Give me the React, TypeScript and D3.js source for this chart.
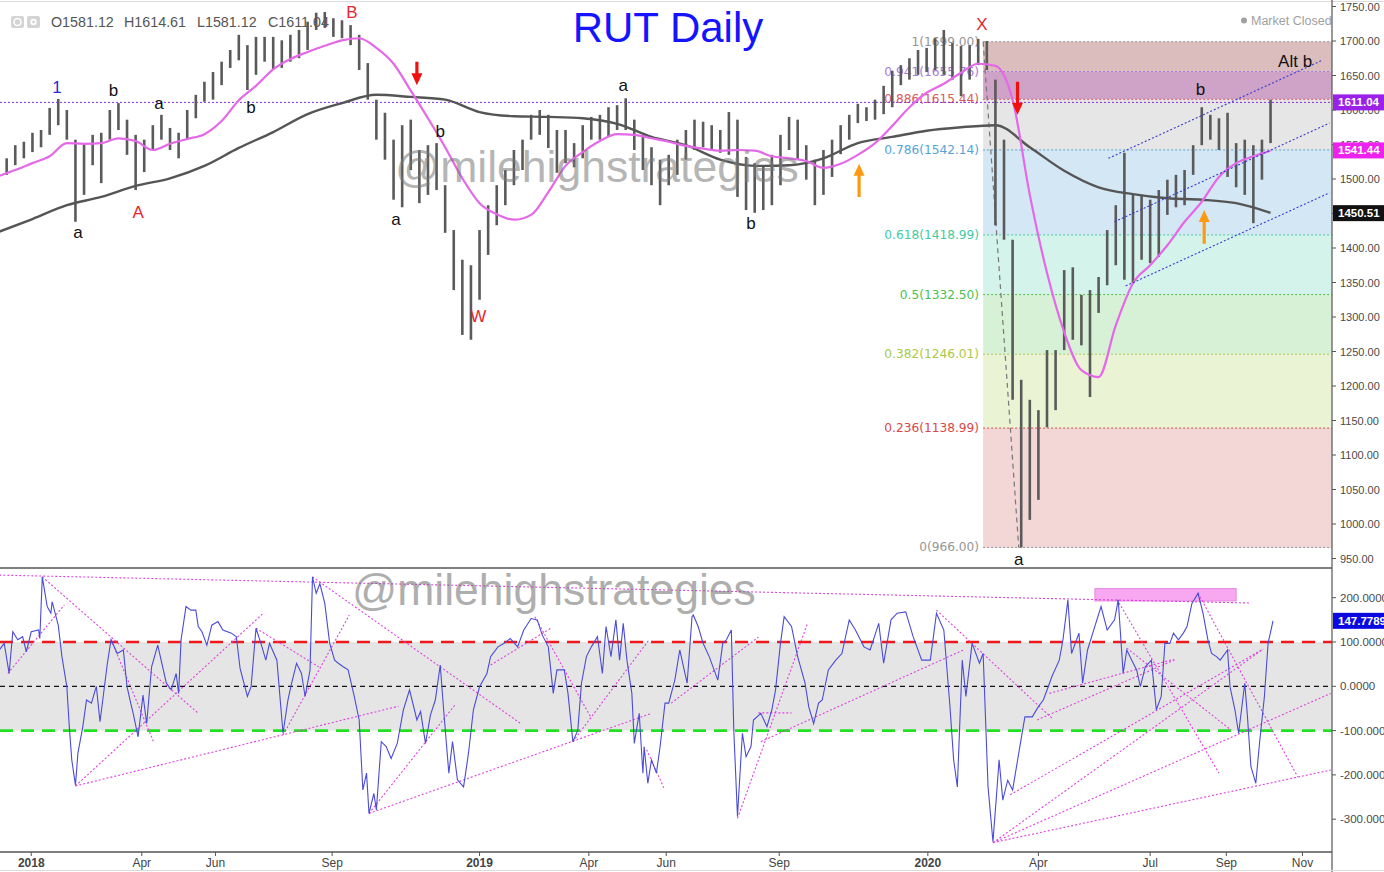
import React from "react";
import * as d3 from "d3";

const parse = d3.timeParse("%Y-%m-%d");
const D = (s: string): Date => parse(s) as Date;

// ---------------- DATA ----------------
// weekly price ranges (one bar per week, dated on the Wednesday)
const barStartDate = "2017-12-06";
const weeklyHigh = [
  1528, 1530, 1549, 1554, 1567, 1571, 1603, 1616, 1600, 1557,
  1552, 1564, 1567, 1600, 1610, 1586, 1564, 1557, 1578, 1593,
  1574, 1567, 1600, 1622, 1641, 1655, 1670, 1687, 1709, 1694,
  1706, 1706, 1706, 1701, 1709, 1716, 1728, 1741, 1742, 1733,
  1730, 1723, 1709, 1668, 1615, 1596, 1557, 1578, 1586, 1542,
  1549, 1552, 1491, 1426, 1383, 1375, 1426, 1462, 1491, 1513,
  1542, 1557, 1593, 1600, 1593, 1571, 1571, 1552, 1578, 1590,
  1593, 1604, 1607, 1617, 1586, 1564, 1546, 1528, 1535, 1557,
  1571, 1586, 1583, 1578, 1571, 1597, 1586, 1532, 1523, 1520,
  1535, 1564, 1590, 1586, 1549, 1528, 1542, 1557, 1578, 1593,
  1609, 1604, 1615, 1635, 1657, 1665, 1675, 1687, 1690, 1704,
  1716, 1697, 1693, 1694, 1703, 1700, 1644, 1557, 1412, 1209,
  1180, 1165, 1252, 1252, 1368, 1372, 1332, 1339, 1358, 1426,
  1462, 1538, 1477, 1477, 1470, 1484, 1499, 1506, 1513, 1549,
  1604, 1593, 1588, 1596, 1552, 1557, 1549, 1557, 1615,
];
const weeklyLow = [
  1506, 1506, 1520, 1530, 1539, 1546, 1564, 1578, 1557, 1438,
  1477, 1520, 1494, 1557, 1571, 1535, 1484, 1510, 1542, 1557,
  1542, 1530, 1557, 1588, 1612, 1615, 1636, 1661, 1672, 1629,
  1651, 1670, 1658, 1661, 1670, 1675, 1687, 1716, 1719, 1706,
  1704, 1694, 1658, 1615, 1557, 1528, 1470, 1459, 1513, 1465,
  1477, 1484, 1422, 1339, 1274, 1267, 1325, 1390, 1433, 1462,
  1491, 1513, 1557, 1564, 1545, 1509, 1523, 1517, 1530, 1557,
  1557, 1561, 1571, 1571, 1542, 1513, 1491, 1462, 1491, 1506,
  1528, 1542, 1546, 1542, 1538, 1535, 1474, 1455, 1451, 1455,
  1462, 1491, 1542, 1528, 1499, 1462, 1477, 1503, 1536, 1557,
  1581, 1584, 1586, 1594, 1604, 1636, 1644, 1651, 1655, 1658,
  1651, 1644, 1620, 1644, 1665, 1658, 1433, 1412, 1180, 966,
  1006, 1035, 1140, 1165, 1252, 1267, 1259, 1184, 1306, 1346,
  1375, 1354, 1349, 1383, 1378, 1387, 1448, 1459, 1462, 1506,
  1549, 1557, 1542, 1503, 1488, 1477, 1436, 1499, 1552,
];

// 50-day MA sampled every 2 weeks, 200-day MA every 4 weeks
const maStartDate = "2017-12-06";
const ma50 = [
  1504, 1513, 1523, 1533, 1552, 1551, 1552, 1559, 1555, 1542,
  1551, 1558, 1565, 1584, 1614, 1635, 1659, 1674, 1684, 1693,
  1701, 1704, 1690, 1667, 1628, 1588, 1546, 1501, 1465, 1449,
  1441, 1448, 1481, 1519, 1539, 1555, 1565, 1564, 1559, 1554,
  1548, 1544, 1541, 1542, 1541, 1533, 1530, 1526, 1516, 1522,
  1535, 1552, 1577, 1604, 1625, 1638, 1654, 1667, 1664, 1615,
  1477, 1364, 1278, 1223, 1213, 1288, 1349, 1375, 1404, 1438,
  1467, 1503, 1523, 1533, 1541,
];
const ma200 = [
  1423, 1442, 1462, 1474, 1490, 1501, 1519, 1545, 1568, 1594,
  1610, 1622, 1619, 1615, 1597, 1591, 1590, 1588, 1580, 1561,
  1549, 1528, 1519, 1520, 1530, 1552, 1561, 1570, 1575, 1578,
  1546, 1512, 1488, 1478, 1472, 1470, 1465, 1451,
];

const headerFields = ["O1581.12", "H1614.61", "L1581.12", "C1611.04"];
const lastClose = 1611.04;
const lastMa50 = 1541.44;
const lastMa200 = 1450.51;
const lastCci = 147.7789;

// Fibonacci retracement from X to a
const fibStartDate = "2020-02-16";
const fibEndDate = "2020-03-16";
const fibRatios = ["1", "0.941", "0.886", "0.786", "0.618", "0.5", "0.382", "0.236", "0"];
const fibPrices = [1699.0, 1655.76, 1615.44, 1542.14, 1418.99, 1332.5, 1246.01, 1138.99, 966.0];
const fibLineColors = ["#959595", "#a57ad8", "#d65a5a", "#55a3d8", "#45c9a3", "#4cbf4c", "#a9c84a", "#d84848", "#959595"];
const fibFillColors = ["#dbbdbd", "#cfa2c7", "#e6e6e6", "#d4e7f4", "#d4f3ea", "#d6f1d6", "#ebf3d5", "#f3d6d6"];

// Elliott-wave annotations: [date, price, text, colour]
const waveLabels: [string, number, string, string][] = [
  ["2018-01-23", 1633, "1", "#2a2ad6"],
  ["2018-03-10", 1628, "b", "#111"],
  ["2018-04-16", 1609, "a", "#111"],
  ["2018-06-30", 1603, "b", "#111"],
  ["2018-02-09", 1423, "a", "#111"],
  ["2018-03-30", 1452, "A", "#e82530"],
  ["2018-09-20", 1741, "B", "#e82530"],
  ["2018-10-26", 1441, "a", "#111"],
  ["2018-12-01", 1569, "b", "#111"],
  ["2019-01-01", 1301, "W", "#e82530"],
  ["2019-04-29", 1636, "a", "#111"],
  ["2019-08-11", 1436, "b", "#111"],
  ["2020-02-15", 1724, "X", "#e82530"],
  ["2020-08-11", 1630, "b", "#111"],
  ["2020-10-27", 1671, "Alt b", "#111"],
  ["2020-03-16", 948, "a", "#111"],
];
// arrows: [date, tip price, tail price, colour]
const arrows: [string, number, number, string][] = [
  ["2018-11-12", 1636, 1670, "#f01010"],
  ["2020-03-15", 1593, 1641, "#f01010"],
  ["2019-11-07", 1522, 1474, "#ff9a10"],
  ["2020-08-14", 1455, 1406, "#ff9a10"],
];
// parallel channel: [date1, price1, date2, price2]
const channelLines: [string, number, string, number][] = [
  ["2020-05-28", 1530, "2020-11-18", 1672],
  ["2020-06-02", 1438, "2020-11-24", 1581],
  ["2020-06-11", 1345, "2020-11-24", 1480],
];

// CCI turning points
const cci: [string, number][] = [
  ["2017-12-07", 82], ["2017-12-11", 97], ["2017-12-15", 29], ["2017-12-18", 123], ["2017-12-22", 105],
  ["2017-12-26", 112], ["2017-12-29", 78], ["2018-01-02", 123], ["2018-01-08", 127], ["2018-01-09", 108],
  ["2018-01-11", 247], ["2018-01-15", 180], ["2018-01-18", 165], ["2018-01-19", 191], ["2018-01-24", 138],
  ["2018-01-27", 67], ["2018-01-31", -1], ["2018-02-02", -91], ["2018-02-04", -166], ["2018-02-07", -223],
  ["2018-02-09", -151], ["2018-02-13", -91], ["2018-02-16", -31], ["2018-02-20", -38], ["2018-02-24", 0],
  ["2018-02-27", -80], ["2018-03-05", 52], ["2018-03-08", 105], ["2018-03-13", 74], ["2018-03-18", 82],
  ["2018-03-21", -1], ["2018-03-24", -38], ["2018-03-26", -61], ["2018-03-30", -114], ["2018-04-03", -20],
  ["2018-04-06", -84], ["2018-04-10", 44], ["2018-04-15", 93], ["2018-04-19", 44], ["2018-04-22", 7],
  ["2018-04-26", -8], ["2018-04-30", 29], ["2018-05-02", -16], ["2018-05-04", 105], ["2018-05-08", 180],
  ["2018-05-12", 172], ["2018-05-16", 172], ["2018-05-18", 135], ["2018-05-21", 123], ["2018-05-25", 93],
  ["2018-05-29", 138], ["2018-06-03", 146], ["2018-06-07", 127], ["2018-06-14", 120], ["2018-06-18", 112],
  ["2018-06-21", 41], ["2018-06-27", -23], ["2018-06-30", -1], ["2018-07-04", 131], ["2018-07-08", 97],
  ["2018-07-12", 59], ["2018-07-15", 97], ["2018-07-21", 59], ["2018-07-26", -106], ["2018-07-30", -31],
  ["2018-08-02", 7], ["2018-08-06", 52], ["2018-08-10", 29], ["2018-08-13", -23], ["2018-08-17", 37],
  ["2018-08-19", 247], ["2018-08-22", 210], ["2018-08-25", 232], ["2018-08-29", 187], ["2018-09-02", 97],
  ["2018-09-06", 59], ["2018-09-09", 52], ["2018-09-13", 44], ["2018-09-17", 37], ["2018-09-22", -23],
  ["2018-09-26", -76], ["2018-09-29", -234], ["2018-10-02", -196], ["2018-10-04", -287], ["2018-10-08", -242],
  ["2018-10-10", -279], ["2018-10-14", -125], ["2018-10-18", -136], ["2018-10-22", -163], ["2018-10-27", -129],
  ["2018-11-01", -53], ["2018-11-06", -8], ["2018-11-12", -76], ["2018-11-15", -57], ["2018-11-19", -129],
  ["2018-11-23", -65], ["2018-11-27", -31], ["2018-12-01", 48], ["2018-12-04", -61], ["2018-12-08", -196],
  ["2018-12-11", -125], ["2018-12-15", -211], ["2018-12-20", -227], ["2018-12-24", -151], ["2018-12-28", -53],
  ["2019-01-02", -1], ["2019-01-08", 29], ["2019-01-11", 67], ["2019-01-17", 89], ["2019-01-22", 97],
  ["2019-01-27", 108], ["2019-02-02", 89], ["2019-02-07", 127], ["2019-02-13", 153], ["2019-02-18", 150],
  ["2019-02-22", 116], ["2019-02-27", 89], ["2019-03-03", -16], ["2019-03-06", 37], ["2019-03-12", 37],
  ["2019-03-15", -16], ["2019-03-19", -125], ["2019-03-23", -99], ["2019-03-26", 7], ["2019-03-30", 67],
  ["2019-04-03", 89], ["2019-04-08", 112], ["2019-04-12", 29], ["2019-04-15", 135], ["2019-04-19", 67],
  ["2019-04-23", 150], ["2019-04-26", 59], ["2019-04-29", 142], ["2019-05-02", 59], ["2019-05-06", -16],
  ["2019-05-08", -129], ["2019-05-12", -61], ["2019-05-15", -196], ["2019-05-16", -136], ["2019-05-19", -219],
  ["2019-05-22", -166], ["2019-05-26", -196], ["2019-05-29", -136], ["2019-06-02", -38], ["2019-06-05", -38],
  ["2019-06-10", 14], ["2019-06-14", 82], ["2019-06-20", 7], ["2019-06-24", 157], ["2019-06-25", 161],
  ["2019-06-29", 135], ["2019-07-03", 97], ["2019-07-08", 67], ["2019-07-15", 14], ["2019-07-19", 97],
  ["2019-07-22", 105], ["2019-07-26", 127], ["2019-07-28", -99], ["2019-07-31", -294], ["2019-08-04", -106],
  ["2019-08-07", -159], ["2019-08-11", -136], ["2019-08-13", -76], ["2019-08-19", -61], ["2019-08-24", -91],
  ["2019-08-28", -53], ["2019-08-31", -8], ["2019-09-04", 97], ["2019-09-07", 157], ["2019-09-13", 135],
  ["2019-09-18", 67], ["2019-09-24", 7], ["2019-09-27", -46], ["2019-10-01", -84], ["2019-10-05", -38],
  ["2019-10-08", -31], ["2019-10-13", 37], ["2019-10-19", 59], ["2019-10-24", 74], ["2019-10-30", 150],
  ["2019-11-04", 127], ["2019-11-11", 89], ["2019-11-16", 82], ["2019-11-23", 142], ["2019-11-27", 52],
  ["2019-12-03", 150], ["2019-12-08", 165], ["2019-12-15", 168], ["2019-12-21", 112], ["2019-12-28", 59],
  ["2020-01-04", 59], ["2020-01-09", 165], ["2020-01-15", 127], ["2020-01-20", -46], ["2020-01-23", -166],
  ["2020-01-26", -227], ["2020-01-30", 59], ["2020-02-02", -23], ["2020-02-07", 97], ["2020-02-13", 52],
  ["2020-02-16", 74], ["2020-02-20", -227], ["2020-02-24", -351], ["2020-02-27", -242], ["2020-02-29", -166],
  ["2020-03-03", -257], ["2020-03-07", -212], ["2020-03-11", -234], ["2020-03-16", -151], ["2020-03-21", -69],
  ["2020-03-27", -69], ["2020-04-01", -46], ["2020-04-05", -31], ["2020-04-09", -1], ["2020-04-12", 22],
  ["2020-04-18", 59], ["2020-04-21", 105], ["2020-04-25", 195], ["2020-04-28", 74], ["2020-05-04", 120],
  ["2020-05-07", 7], ["2020-05-11", 82], ["2020-05-16", 127], ["2020-05-22", 180], ["2020-05-27", 127],
  ["2020-06-02", 150], ["2020-06-05", 195], ["2020-06-09", 29], ["2020-06-12", 82], ["2020-06-16", 59],
  ["2020-06-20", 37], ["2020-06-23", -1], ["2020-06-27", 44], ["2020-07-02", 59], ["2020-07-06", -53],
  ["2020-07-10", -23], ["2020-07-13", 97], ["2020-07-17", 97], ["2020-07-20", 120], ["2020-07-24", 105],
  ["2020-07-28", 120], ["2020-07-31", 135], ["2020-08-04", 187], ["2020-08-09", 210], ["2020-08-13", 165],
  ["2020-08-17", 105], ["2020-08-20", 74], ["2020-08-24", 67], ["2020-08-27", 59], ["2020-09-02", 82],
  ["2020-09-04", -1], ["2020-09-08", -53], ["2020-09-11", -106], ["2020-09-16", 7], ["2020-09-18", -61],
  ["2020-09-21", -181], ["2020-09-25", -219], ["2020-09-28", -129], ["2020-10-02", -23], ["2020-10-05", 97],
  ["2020-10-09", 147.78],
];
// CCI trend lines: [date1, value1, date2, value2]
const cciTrendlines: [string, number, string, number][] = [
  ["2017-12-07", 251, "2020-09-20", 188],
  ["2018-01-11", 247, "2018-05-18", -61],
  ["2017-12-14", 29, "2018-01-29", 184],
  ["2018-02-07", -225, "2018-10-28", -45],
  ["2018-02-07", -225, "2018-07-10", 165],
  ["2018-03-08", 105, "2018-04-12", -128],
  ["2018-07-26", -110, "2018-09-18", 161],
  ["2018-07-04", 131, "2018-08-24", 44],
  ["2018-08-19", 247, "2019-02-04", -83],
  ["2018-10-04", -287, "2018-12-13", -42],
  ["2018-10-04", -287, "2019-05-22", -61],
  ["2019-01-11", 48, "2019-03-01", 131],
  ["2019-02-16", 157, "2019-04-03", -72],
  ["2019-03-19", -125, "2019-05-20", 105],
  ["2019-05-18", -143, "2019-06-01", -229],
  ["2019-06-07", -38, "2019-08-17", 111],
  ["2019-07-31", -298, "2019-09-26", 142],
  ["2019-08-19", -125, "2020-01-31", 82],
  ["2019-08-17", -60, "2019-09-13", -60],
  ["2020-01-09", 172, "2020-04-12", -72],
  ["2020-02-24", -353, "2020-10-01", 84],
  ["2020-02-24", -353, "2020-11-25", -16],
  ["2020-02-24", -353, "2020-11-25", -189],
  ["2020-03-09", -245, "2020-10-01", 84],
  ["2020-03-31", -76, "2020-07-22", 61],
  ["2020-04-10", -16, "2020-07-20", 61],
  ["2020-06-04", 196, "2020-08-26", -196],
  ["2020-06-12", 86, "2020-09-05", -99],
  ["2020-08-09", 210, "2020-10-29", -204],
];
const cciBox: [string, number, string, number] = ["2020-05-17", 220.6, "2020-09-09", 192.6];

const priceTicks = [950, 1000, 1050, 1100, 1150, 1200, 1250, 1300, 1350, 1400, 1450, 1500, 1550, 1600, 1650, 1700, 1750];
const cciTicks = [200, 100, 0, -100, -200, -300];
const timeTicks: [string, string, boolean][] = [
  ["2018-01-02", "2018", true], ["2018-04-02", "Apr", false], ["2018-06-01", "Jun", false],
  ["2018-09-04", "Sep", false], ["2019-01-02", "2019", true], ["2019-04-01", "Apr", false],
  ["2019-06-03", "Jun", false], ["2019-09-03", "Sep", false], ["2020-01-02", "2020", true],
  ["2020-04-01", "Apr", false], ["2020-07-01", "Jul", false], ["2020-09-01", "Sep", false],
  ["2020-11-02", "Nov", false],
];

// ---------------- LAYOUT ----------------
const W = 1384;
const H = 872;
const PR = 1332; // right edge of plotting area
const MAIN_B = 568;
const SUB_T = 569;
const SUB_B = 852;
const FONT = "'Liberation Sans', Arial, sans-serif";
const FIB_FONT = "'DejaVu Sans', Verdana, sans-serif";

function arrowPath(x: number, yTip: number, yTail: number) {
  const dir = yTip > yTail ? 1 : -1;
  const hb = yTip - dir * 12;
  return `M${x - 1.6},${yTail} L${x + 1.6},${yTail} L${x + 1.6},${hb} L${x + 5.5},${hb} L${x},${yTip} L${x - 5.5},${hb} L${x - 1.6},${hb} Z`;
}

export default function App() {
  const x = d3.scaleTime().domain([D("2018-01-01"), D("2020-10-09")]).range([30, 1273]);
  const yP = d3.scaleLinear().domain([950, 1750]).range([558.5, 6.5]);
  const yC = d3.scaleLinear().domain([-300, 200]).range([819.2, 597.7]);

  const line = d3.line<[number, number]>().curve(d3.curveMonotoneX);
  const polyline = d3.line<[number, number]>();

  const bars = weeklyHigh.map((h, i) => ({
    x: x(d3.timeDay.offset(D(barStartDate), 7 * i)),
    h: yP(h),
    l: yP(weeklyLow[i]),
  }));
  const ma50Path = line(ma50.map((v, i) => [x(d3.timeDay.offset(D(maStartDate), 14 * i)), yP(v)] as [number, number]));
  const ma200Path = line(ma200.map((v, i) => [x(d3.timeDay.offset(D(maStartDate), 28 * i)), yP(v)] as [number, number]));
  const cciPath = polyline(cci.map(([d, v]) => [x(D(d)), yC(v)] as [number, number]));

  const fx = x(D(fibStartDate));

  return (
    <svg width={W} height={H} viewBox={`0 0 ${W} ${H}`}
      style={{ position: "absolute", left: 0, top: 0, display: "block", background: "#fff", fontFamily: FONT }}>
      <defs>
        <clipPath id="mainClip"><rect x={0} y={0} width={PR} height={MAIN_B} /></clipPath>
        <clipPath id="subClip"><rect x={0} y={SUB_T} width={PR} height={SUB_B - SUB_T} /></clipPath>
      </defs>
      <rect x={0} y={0} width={W} height={H} fill="#fff" />

      {/* ---------- MAIN PANE ---------- */}
      <g clipPath="url(#mainClip)">
        {fibFillColors.map((c, i) => (
          <rect key={"ff" + i} x={fx} width={PR - fx} y={yP(fibPrices[i])}
            height={yP(fibPrices[i + 1]) - yP(fibPrices[i])} fill={c} />
        ))}
        {fibPrices.map((p, i) => (
          <line key={"fl" + i} x1={fx} x2={PR} y1={yP(p)} y2={yP(p)} stroke={fibLineColors[i]}
            strokeWidth={1} strokeDasharray="2,2" />
        ))}
        {fibPrices.map((p, i) => (
          <text key={"ft" + i} x={fx - 4} y={yP(p)} textAnchor="end" dominantBaseline="central"
            fontSize={12.2} fontFamily={FIB_FONT} fill={fibLineColors[i]}>{`${fibRatios[i]}(${p.toFixed(2)})`}</text>
        ))}

        {/* header */}
        <rect x={11} y={16} width={13} height={12} rx={2} fill="#d4d4d4" />
        <circle cx={17.5} cy={22} r={3.5} fill="none" stroke="#fff" strokeWidth={1.5} />
        <rect x={27} y={16} width={13} height={12} rx={2} fill="#d4d4d4" />
        <circle cx={33.5} cy={22} r={3.2} fill="#fff" />
        <circle cx={33.5} cy={22} r={1.4} fill="#d4d4d4" />
        {headerFields.map((t, i) => (
          <text key={"h" + i} x={[51, 124, 197, 268][i]} y={27} fontSize={14.3} fill="#555">{t}</text>
        ))}

        {/* last price line */}
        <line x1={0} x2={PR} y1={yP(lastClose)} y2={yP(lastClose)} stroke="#8a2be2" strokeWidth={1} strokeDasharray="2,2" />

        {/* dashed X -> a line */}
        <line x1={x(D(fibStartDate))} y1={yP(fibPrices[0])} x2={x(D(fibEndDate))} y2={yP(fibPrices[8])}
          stroke="#777" strokeWidth={1.2} strokeDasharray="5,4" />

        {/* price bars */}
        {bars.map((b, i) => (
          <line key={"b" + i} x1={b.x} x2={b.x} y1={b.h} y2={b.l} stroke="#5a5a5a" strokeWidth={2.6} />
        ))}

        {/* moving averages */}
        <path d={ma200Path || ""} fill="none" stroke="#555" strokeWidth={2.4} />
        <path d={ma50Path || ""} fill="none" stroke="#e468e8" strokeWidth={2.2} />

        {/* channel */}
        {channelLines.map(([d1, p1, d2, p2], i) => (
          <line key={"ch" + i} x1={x(D(d1))} y1={yP(p1)} x2={x(D(d2))} y2={yP(p2)}
            stroke="#3838d0" strokeWidth={1.1} strokeDasharray="2,2" />
        ))}

        {/* watermark */}
        <text x={395} y={182} fontSize={44.5} fill="#7a7a7a" opacity={0.55}>@milehighstrategies</text>

        {/* wave labels */}
        {waveLabels.map(([d, p, t, c], i) => (
          <text key={"w" + i} x={x(D(d))} y={yP(p)} textAnchor="middle" dominantBaseline="central"
            fontSize={17} fill={c}>{t}</text>
        ))}
        {arrows.map(([d, tip, tail, c], i) => (
          <path key={"a" + i} d={arrowPath(x(D(d)), yP(tip), yP(tail))} fill={c} />
        ))}

        {/* title & status */}
        <text x={668} y={42} textAnchor="middle" fontSize={42} fill="#1414ff">RUT Daily</text>
        <circle cx={1244} cy={20.5} r={3} fill="#a0a0a0" />
        <text x={1251} y={25} fontSize={12.5} fill="#a0a0a0">Market Closed</text>
      </g>

      {/* ---------- CCI PANE ---------- */}
      <g clipPath="url(#subClip)">
        <rect x={0} width={PR} y={yC(100)} height={yC(-100) - yC(100)} fill="#e5e5e5" />
        <line x1={0} x2={PR} y1={yC(0)} y2={yC(0)} stroke="#111" strokeWidth={1.2} strokeDasharray="5,4" />
        <line x1={0} x2={PR} y1={yC(100)} y2={yC(100)} stroke="#f01818" strokeWidth={2.6} strokeDasharray="13,8" />
        <line x1={0} x2={PR} y1={yC(-100)} y2={yC(-100)} stroke="#22e022" strokeWidth={2.6} strokeDasharray="13,8" />
        <rect x={x(D(cciBox[0]))} y={yC(cciBox[1])} width={x(D(cciBox[2])) - x(D(cciBox[0]))}
          height={yC(cciBox[3]) - yC(cciBox[1])} fill="#f7a8f0" stroke="#e58ae0" strokeWidth={1} />
        {cciTrendlines.map(([d1, v1, d2, v2], i) => (
          <line key={"t" + i} x1={x(D(d1))} y1={yC(v1)} x2={x(D(d2))} y2={yC(v2)}
            stroke="#e040e0" strokeWidth={1.1} strokeDasharray="2,2" />
        ))}
        <text x={352} y={605} fontSize={44.5} fill="#7a7a7a" opacity={0.6}>@milehighstrategies</text>
        <path d={cciPath || ""} fill="none" stroke="#4b4bd8" strokeWidth={1.1} />
      </g>

      {/* ---------- FRAME & AXES ---------- */}
      <line x1={0} x2={W} y1={1.5} y2={1.5} stroke="#dcdcdc" strokeWidth={1} />
      <line x1={0} x2={PR} y1={MAIN_B} y2={MAIN_B} stroke="#555" strokeWidth={1.5} />
      <line x1={0} x2={PR} y1={SUB_B} y2={SUB_B} stroke="#555" strokeWidth={1.5} />
      <line x1={PR} x2={PR} y1={0} y2={H} stroke="#555" strokeWidth={1.2} />
      <line x1={0} x2={W} y1={870.5} y2={870.5} stroke="#dcdcdc" strokeWidth={1} />

      {priceTicks.map((p) => (
        <g key={"pt" + p}>
          <line x1={PR} x2={PR + 4} y1={yP(p)} y2={yP(p)} stroke="#555" />
          <text x={PR + 8} y={yP(p)} dominantBaseline="central" fontSize={11} fill="#4a4a4a">{p.toFixed(2)}</text>
        </g>
      ))}
      {cciTicks.map((v) => (
        <g key={"ct" + v}>
          <line x1={PR} x2={PR + 4} y1={yC(v)} y2={yC(v)} stroke="#555" />
          <text x={PR + 8} y={yC(v)} dominantBaseline="central" fontSize={11.5} fill="#4a4a4a">{v.toFixed(4)}</text>
        </g>
      ))}
      {timeTicks.map(([d, t, bold]) => (
        <g key={"tt" + d}>
          <line x1={x(D(d))} x2={x(D(d))} y1={SUB_B} y2={SUB_B + 4} stroke="#555" />
          <text x={x(D(d))} y={867} textAnchor="middle" fontSize={12} fontWeight={bold ? "bold" : "normal"}
            fill="#444">{t}</text>
        </g>
      ))}

      {/* value tags */}
      {([
        [yP(lastClose), "#9b20e8", lastClose.toFixed(2)],
        [yP(lastMa50), "#ee22ee", lastMa50.toFixed(2)],
        [yP(lastMa200), "#111", lastMa200.toFixed(2)],
        [yC(lastCci), "#0a0ae0", lastCci.toFixed(4)],
      ] as [number, string, string][]).map(([y, c, t], i) => (
        <g key={"tag" + i}>
          <rect x={PR + 1} y={y - 8} width={W - PR} height={16} fill={c} />
          <text x={PR + 6} y={y} dominantBaseline="central" fontSize={11.5} fontWeight="bold" fill="#fff">{t}</text>
        </g>
      ))}
    </svg>
  );
}
